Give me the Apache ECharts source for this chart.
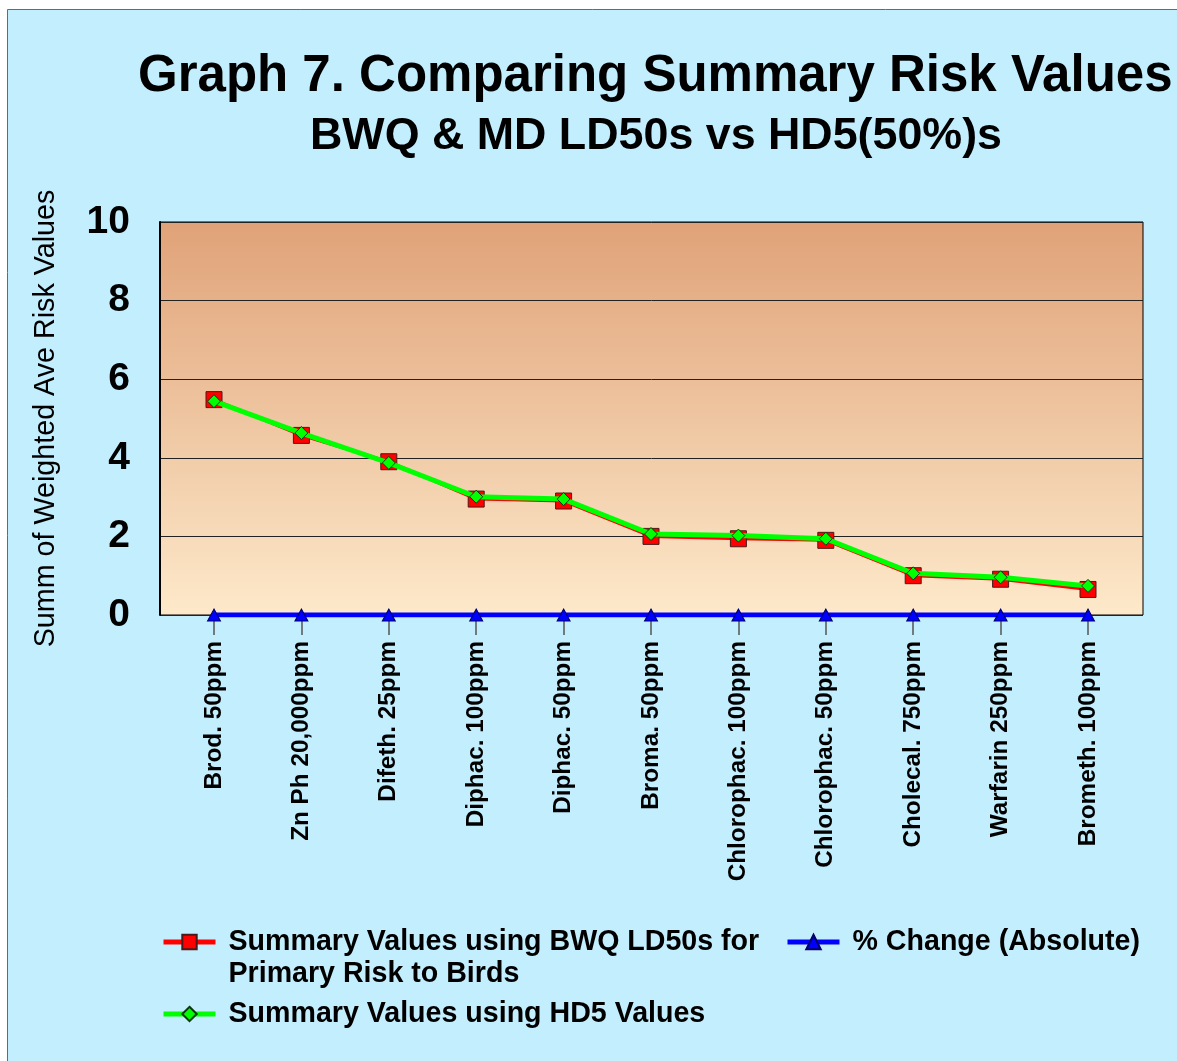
<!DOCTYPE html>
<html>
<head>
<meta charset="utf-8">
<script src="https://cdn.jsdelivr.net/npm/echarts@6/dist/echarts.min.js"></script>
<style>
  html, body { margin: 0; padding: 0; background: #fff; }
  #chart { width: 1177px; height: 1061px; }
</style>
</head>
<body>
<div id="chart"></div>
<script>
// categories along the x axis
const categories = [
  'Brod. 50ppm', 'Zn Ph 20,000ppm', 'Difeth. 25ppm', 'Diphac. 100ppm', 'Diphac. 50ppm',
  'Broma. 50ppm', 'Chlorophac. 100ppm', 'Chlorophac. 50ppm', 'Cholecal. 750ppm',
  'Warfarin 250ppm', 'Brometh. 100ppm'
]

// series values
const bwqValues = [5.48, 4.57, 3.90, 2.95, 2.90, 2.00, 1.94, 1.90, 1.00, 0.91, 0.65]
const hd5Values = [5.44, 4.63, 3.87, 3.01, 2.95, 2.06, 2.02, 1.94, 1.06, 0.96, 0.74]
const pctChange = [0, 0, 0, 0, 0, 0, 0, 0, 0, 0, 0]

const yTicks = { min: 0, max: 10, interval: 2 }

const nameBwq = 'Summary Values using BWQ LD50s for Primary Risk to Birds'
const namePct = '% Change (Absolute)'
const nameHd5 = 'Summary Values using HD5 Values'

const font = 'Liberation Sans, Arial, sans-serif'

const chart = echarts.init(document.getElementById('chart'))

const legendText = {
  fontFamily: font,
  fontSize: 28.6,
  fontWeight: 'bold',
  color: '#000',
  lineHeight: 32,
  padding: [0, 0, 0, 8]
}

const legendCommon = {
  padding: 0,
  itemWidth: 52,
  itemHeight: 18,
  lineStyle: { width: 5 },
  textStyle: legendText
}

const option = {
  backgroundColor: '#fff',
  animation: false,
  graphic: [
    {
      type: 'rect',
      z: -10,
      shape: { x: 7.5, y: 9.5, width: 1250, height: 1100 },
      style: { fill: '#C2EEFE', stroke: '#6a6a6a', lineWidth: 1 }
    }
  ],
  title: [
    {
      text: 'Graph 7. Comparing Summary Risk Values',
      left: 138,
      top: 51,
      padding: 0,
      textStyle: { fontFamily: font, fontSize: 51, fontWeight: 'bold', color: '#000' }
    },
    {
      text: 'BWQ & MD LD50s vs HD5(50%)s',
      left: 310,
      top: 114,
      padding: 0,
      textStyle: { fontFamily: font, fontSize: 44.8, fontWeight: 'bold', color: '#000' }
    }
  ],
  legend: [
    Object.assign({}, legendCommon, {
      left: 161,
      top: 894,
      data: [nameBwq],
      // empty first line keeps the icon level with the first text line
      formatter: () => '\nSummary Values using BWQ LD50s for\nPrimary Risk to Birds'
    }),
    Object.assign({}, legendCommon, { left: 785, top: 926, data: [namePct] }),
    Object.assign({}, legendCommon, { left: 161, top: 998, data: [nameHd5] })
  ],
  grid: [
    // frame, background and gridlines
    {
      left: 160, top: 222, width: 983, height: 393,
      show: true,
      borderColor: '#000',
      borderWidth: 1,
      backgroundColor: new echarts.graphic.LinearGradient(0, 0, 0, 1, [
        { offset: 0, color: '#E0A278' },
        { offset: 1, color: '#FDE9CA' }
      ])
    },
    // data area (categories inset a little from the frame)
    { left: 170.3, top: 222, width: 961.4, height: 393 }
  ],
  xAxis: [
    { gridIndex: 0, type: 'value', min: 0, max: 1, show: false },
    {
      gridIndex: 1,
      type: 'category',
      data: categories,
      boundaryGap: true,
      axisLine: { show: false },
      axisTick: { show: true, alignWithLabel: true, length: 20, lineStyle: { color: '#555', width: 1.5 } },
      axisLabel: {
        rotate: 90,
        margin: 26,
        interval: 0,
        fontFamily: font,
        fontSize: 24.3,
        fontWeight: 'bold',
        color: '#000'
      }
    }
  ],
  yAxis: [
    {
      gridIndex: 0,
      type: 'value',
      min: yTicks.min,
      max: yTicks.max,
      interval: yTicks.interval,
      name: 'Summ of Weighted Ave Risk Values',
      nameLocation: 'middle',
      nameRotate: 90,
      nameGap: 99,
      nameTextStyle: { fontFamily: font, fontSize: 28.7, color: '#000' },
      axisLine: { show: true, lineStyle: { color: '#000', width: 2 } },
      axisTick: { show: false },
      axisLabel: {
        margin: 30,
        fontFamily: font,
        fontSize: 39,
        fontWeight: 'bold',
        color: '#000'
      },
      splitLine: { show: true, lineStyle: { color: '#222', width: 1 } }
    },
    { gridIndex: 1, type: 'value', min: yTicks.min, max: yTicks.max, show: false }
  ],
  series: [
    {
      name: namePct,
      type: 'line',
      xAxisIndex: 1,
      yAxisIndex: 1,
      data: pctChange,
      symbol: 'triangle',
      symbolSize: [13, 12],
      lineStyle: { color: '#0000FF', width: 5 },
      itemStyle: { color: '#0000FF', borderColor: '#000066', borderWidth: 1 },
      z: 3
    },
    {
      name: nameBwq,
      type: 'line',
      xAxisIndex: 1,
      yAxisIndex: 1,
      data: bwqValues,
      symbol: 'rect',
      symbolSize: 16,
      lineStyle: { color: '#FF0000', width: 3 },
      itemStyle: { color: '#FF0000', borderColor: '#4a1a1a', borderWidth: 1 },
      z: 4
    },
    {
      name: nameHd5,
      type: 'line',
      xAxisIndex: 1,
      yAxisIndex: 1,
      data: hd5Values,
      symbol: 'diamond',
      symbolSize: 13,
      lineStyle: { color: '#00FF00', width: 5 },
      itemStyle: { color: '#00FF00', borderColor: '#0a3a0a', borderWidth: 1 },
      z: 5
    }
  ]
}

chart.setOption(option)
</script>
</body>
</html>
